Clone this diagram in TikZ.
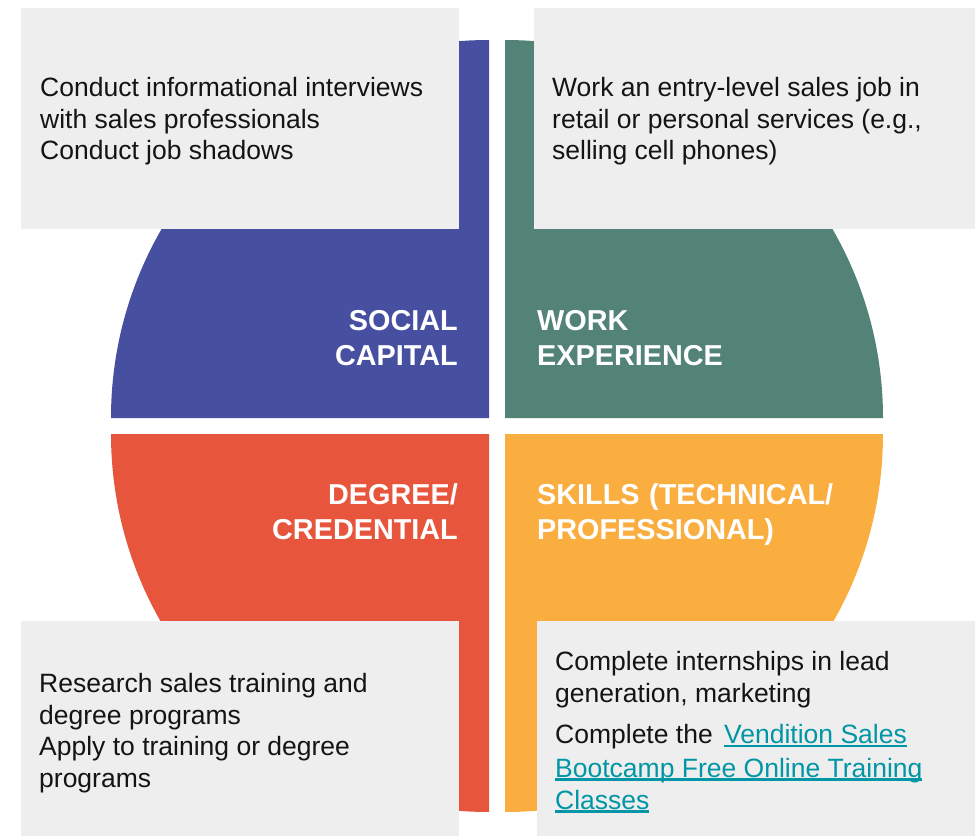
\documentclass[tikz,border=0pt]{standalone}
\usepackage{fontspec}
\setmainfont{Liberation Sans}
\definecolor{socialblue}{RGB}{70,79,160}
\definecolor{workgreen}{RGB}{82,131,118}
\definecolor{degreered}{RGB}{232,85,61}
\definecolor{skillsorange}{RGB}{250,174,64}
\definecolor{boxgray}{RGB}{238,238,238}
\definecolor{inkblack}{RGB}{20,20,20}
\definecolor{linkteal}{RGB}{0,150,165}
\newsavebox{\linkbox}
\newcommand{\weblink}[1]{{\color{linkteal}\sbox{\linkbox}{#1}%
  \rlap{\rule[-3.5pt]{\wd\linkbox}{2.6pt}}\usebox{\linkbox}}}
\begin{document}
\begin{tikzpicture}[x=1pt, y=1pt,
  tipbox/.style={fill=boxgray, inner sep=0pt, anchor=north west, minimum height=#1},
  tiptext/.style={inner sep=0pt, anchor=north west, align=left, text=inkblack,
                  font=\fontsize{26.5}{31.7}\selectfont},
  catlabel/.style={inner sep=0pt, text=white, text width=330pt,
                   font=\fontsize{28.8}{35}\selectfont\bfseries}
]
  \useasboundingbox (0,0) rectangle (975,-836);
  \fill[socialblue]   (489,-418) -- (111,-418) arc[start angle=180, end angle=90, radius=378] -- cycle;
  \fill[workgreen]    (505,-418) -- (505,-40)  arc[start angle=90, end angle=0, radius=378] -- cycle;
  \fill[degreered]    (489,-434) -- (489,-812) arc[start angle=270, end angle=180, radius=378] -- cycle;
  \fill[skillsorange] (505,-434) -- (883,-434) arc[start angle=0, end angle=-90, radius=378] -- cycle;

  \node[tipbox=221pt, minimum width=438pt] (socialbox) at (21,-8) {};
  \node[tipbox=221pt, minimum width=441pt] (workbox)   at (534,-8) {};
  \node[tipbox=215pt, minimum width=438pt] (degreebox) at (21,-621) {};
  \node[tipbox=215pt, minimum width=438pt] (skillsbox) at (537,-621) {};

  \node[tiptext] (socialtext) at (40,-77)  {Conduct informational interviews\\with sales professionals\\Conduct job shadows};
  \node[tiptext] (worktext)   at (552,-77) {Work an entry-level sales job in\\retail or personal services (e.g.,\\selling cell phones)};
  \node[tiptext] (degreetext) at (39,-673) {Research sales training and\\degree programs\\Apply to training or degree\\programs};
  \node[tiptext] (skillstext) at (555,-651) {Complete internships in lead\\generation, marketing\\[10pt]Complete the\hspace{4pt} \weblink{Vendition Sales}\\[2pt]\weblink{Bootcamp Free Online Training}\\\weblink{Classes}};

  \node[catlabel, anchor=north east, align=right] (sociallabel) at (458,-310) {SOCIAL\\CAPITAL};
  \node[catlabel, anchor=north west, align=left]  (worklabel)   at (537,-310) {WORK\\EXPERIENCE};
  \node[catlabel, anchor=north east, align=right] (degreelabel) at (458,-483) {DEGREE/\\CREDENTIAL};
  \node[catlabel, anchor=north west, align=left]  (skillslabel) at (537,-483) {SKILLS (TECHNICAL/\\PROFESSIONAL)};
\end{tikzpicture}
\end{document}
